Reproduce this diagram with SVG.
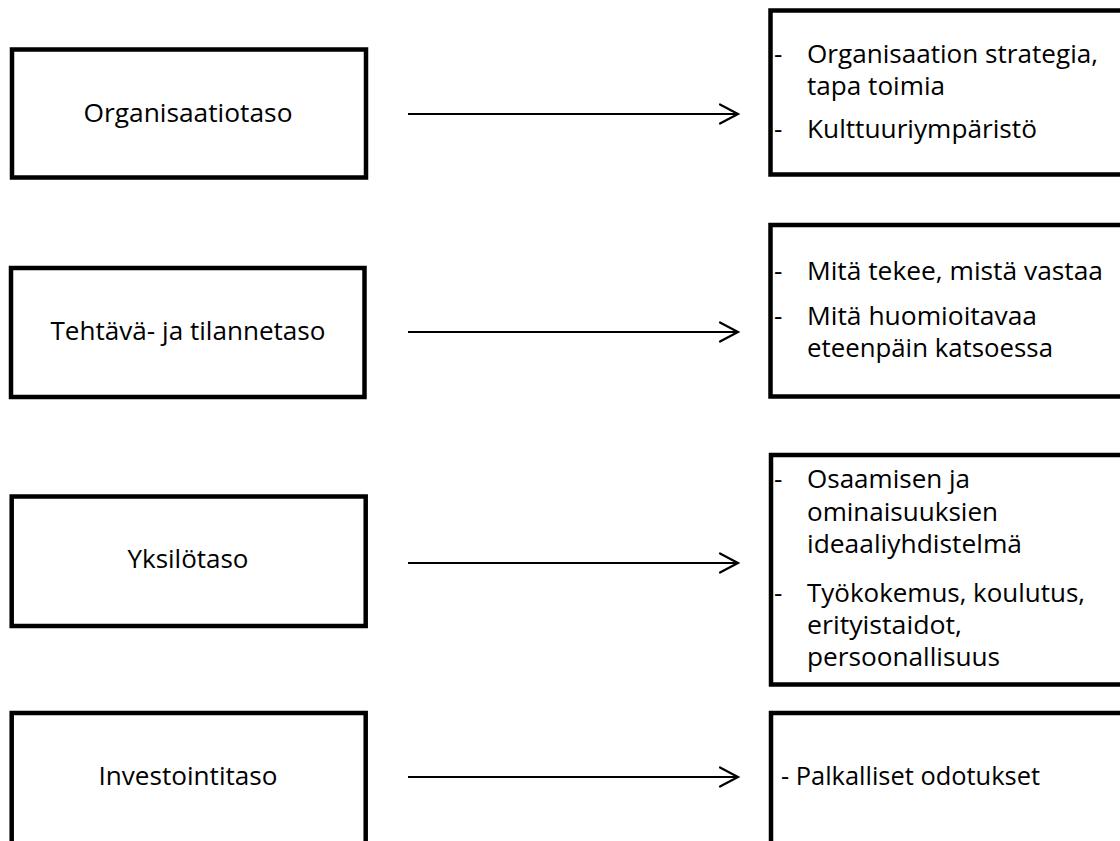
<svg xmlns="http://www.w3.org/2000/svg" width="1120" height="841" viewBox="0 0 1120 841">
  <defs>
    <style>
      .box { fill: #ffffff; stroke: #000000; stroke-width: 4.5; }
      .lbl { font-family: "Open Sans", "Noto Sans", sans-serif; font-size: 26px; fill: #000000; }
      .mid { text-anchor: middle; }
      .conn { stroke: #000000; stroke-width: 2; fill: none; }
      .head { stroke: #000000; stroke-width: 2.2; fill: none; stroke-linecap: round; stroke-linejoin: miter; }
    </style>
  </defs>
  <rect x="0" y="0" width="1120" height="841" fill="#ffffff"/>

  <!-- left column: levels -->
  <g id="org-level">
    <rect class="box" x="12" y="49.5" width="354" height="128"/>
    <text class="lbl mid" x="188" y="122" textLength="209" lengthAdjust="spacingAndGlyphs">Organisaatiotaso</text>
  </g>
  <g id="task-level">
    <rect class="box" x="11" y="268" width="353.5" height="129"/>
    <text class="lbl mid" x="188" y="340" textLength="275" lengthAdjust="spacingAndGlyphs">Tehtävä- ja tilannetaso</text>
  </g>
  <g id="individual-level">
    <rect class="box" x="11.7" y="496.5" width="354" height="129.5"/>
    <text class="lbl mid" x="188" y="568" textLength="121" lengthAdjust="spacingAndGlyphs">Yksilötaso</text>
  </g>
  <g id="investment-level">
    <rect class="box" x="11.7" y="713" width="354" height="160"/>
    <text class="lbl mid" x="188" y="785" textLength="179" lengthAdjust="spacingAndGlyphs">Investointitaso</text>
  </g>

  <!-- right column: descriptions -->
  <g id="org-detail">
    <rect class="box" x="770.5" y="10.5" width="380" height="164"/>
    <text class="lbl" x="774" y="63">-</text>
    <text class="lbl" x="807" y="63" textLength="291" lengthAdjust="spacingAndGlyphs">Organisaation strategia,</text>
    <text class="lbl" x="807" y="95" textLength="138" lengthAdjust="spacingAndGlyphs">tapa toimia</text>
    <text class="lbl" x="774" y="138">-</text>
    <text class="lbl" x="807" y="138" textLength="230" lengthAdjust="spacingAndGlyphs">Kulttuuriympäristö</text>
  </g>
  <g id="task-detail">
    <rect class="box" x="770.5" y="225" width="380" height="171.5"/>
    <text class="lbl" x="774" y="280">-</text>
    <text class="lbl" x="807" y="280" textLength="296" lengthAdjust="spacingAndGlyphs">Mitä tekee, mistä vastaa</text>
    <text class="lbl" x="774" y="325">-</text>
    <text class="lbl" x="807" y="325" textLength="230" lengthAdjust="spacingAndGlyphs">Mitä huomioitavaa</text>
    <text class="lbl" x="807" y="357" textLength="246" lengthAdjust="spacingAndGlyphs">eteenpäin katsoessa</text>
  </g>
  <g id="individual-detail">
    <rect class="box" x="771" y="455" width="380" height="229.5"/>
    <text class="lbl" x="774" y="488">-</text>
    <text class="lbl" x="807" y="488" textLength="163" lengthAdjust="spacingAndGlyphs">Osaamisen ja</text>
    <text class="lbl" x="807" y="521" textLength="191" lengthAdjust="spacingAndGlyphs">ominaisuuksien</text>
    <text class="lbl" x="807" y="553" textLength="215" lengthAdjust="spacingAndGlyphs">ideaaliyhdistelmä</text>
    <text class="lbl" x="774" y="602">-</text>
    <text class="lbl" x="807" y="602" textLength="278" lengthAdjust="spacingAndGlyphs">Työkokemus, koulutus,</text>
    <text class="lbl" x="807" y="634" textLength="155" lengthAdjust="spacingAndGlyphs">erityistaidot,</text>
    <text class="lbl" x="807" y="666" textLength="193" lengthAdjust="spacingAndGlyphs">persoonallisuus</text>
  </g>
  <g id="investment-detail">
    <rect class="box" x="771" y="713" width="380" height="160"/>
    <text class="lbl" x="781" y="785" textLength="259" lengthAdjust="spacingAndGlyphs">- Palkalliset odotukset</text>
  </g>

  <!-- connectors: level to description -->
  <g id="connectors">
    <line class="conn" x1="408" y1="114" x2="737" y2="114"/>
    <polyline class="head" points="720,104.5 738,114 720,123.5"/>
    <line class="conn" x1="408" y1="332" x2="737" y2="332"/>
    <polyline class="head" points="720,322.5 738,332 720,341.5"/>
    <line class="conn" x1="408" y1="563" x2="737" y2="563"/>
    <polyline class="head" points="720,553.5 738,563 720,572.5"/>
    <line class="conn" x1="408" y1="777" x2="737" y2="777"/>
    <polyline class="head" points="720,767.5 738,777 720,786.5"/>
  </g>
</svg>
